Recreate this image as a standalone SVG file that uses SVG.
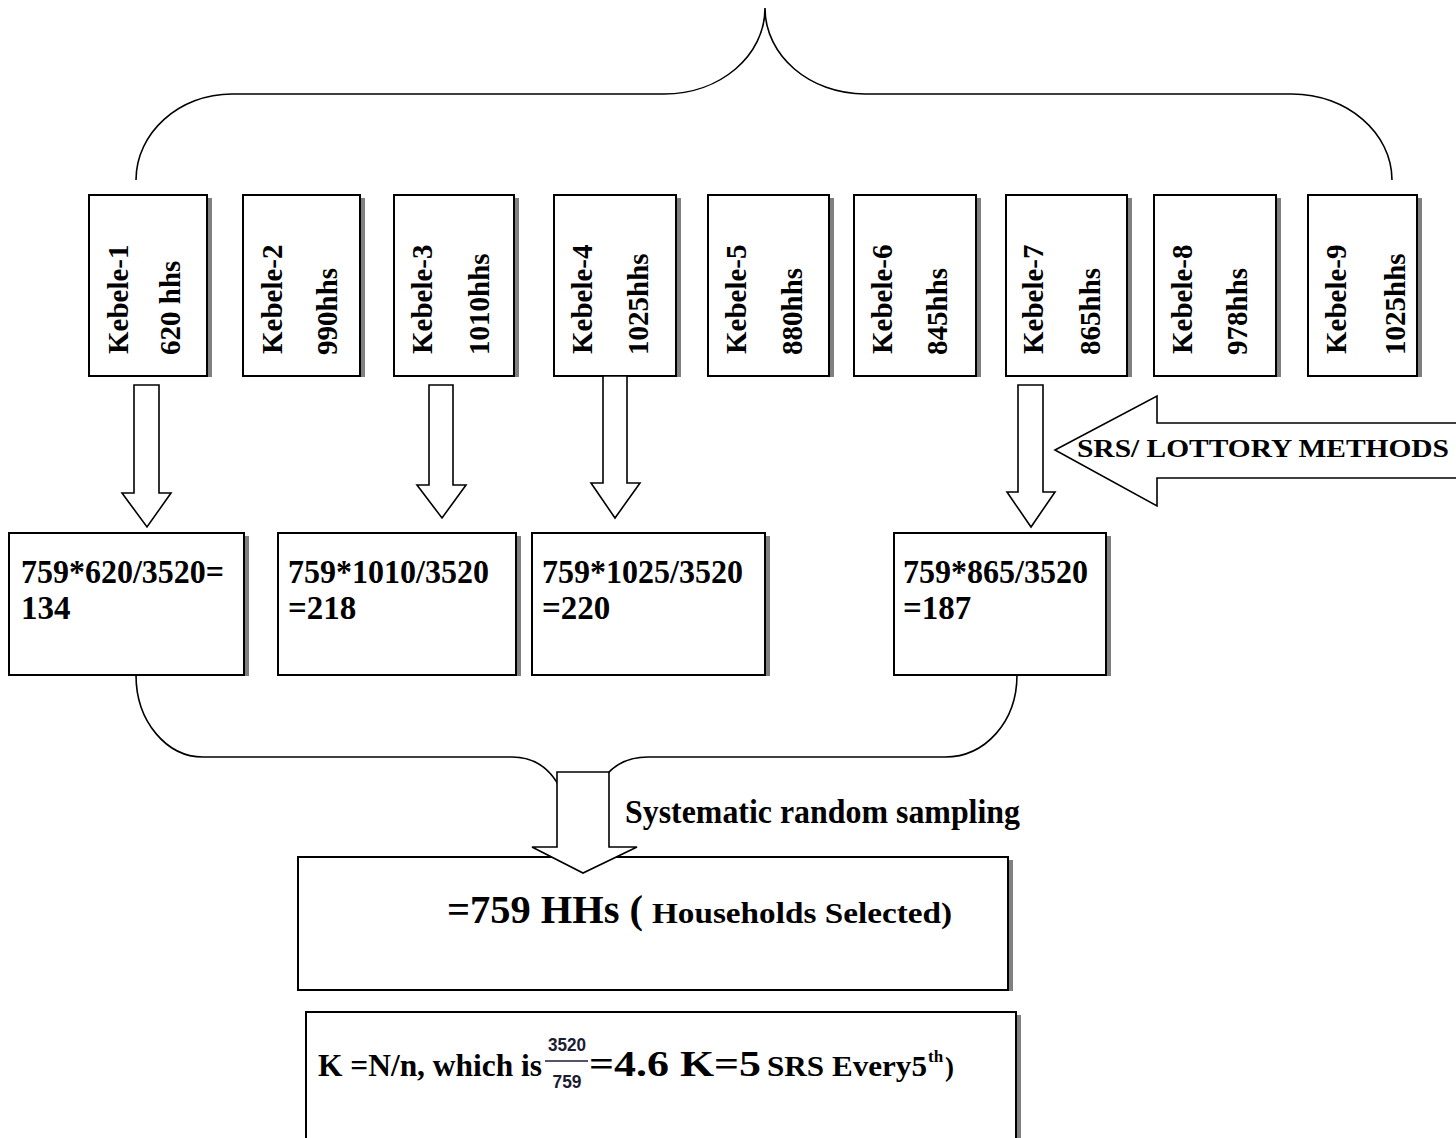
<svg xmlns="http://www.w3.org/2000/svg" width="1456" height="1138" viewBox="0 0 1456 1138">
<style>
.box{fill:#fff;stroke:#000;stroke-width:2}
.sh{fill:#808080}
.arr{fill:#fff;stroke:#000;stroke-width:1.6;stroke-linejoin:miter}
.brace{fill:none;stroke:#000;stroke-width:1.6}
.t{font-family:"Liberation Serif","Times New Roman",serif;font-weight:bold;fill:#000}
.kb{font-size:29px}
.f{font-size:33px}
.fr{font-family:"Liberation Sans",Arial,sans-serif;font-weight:bold;font-size:18px;fill:#1b1b33}
</style>
<rect width="1456" height="1138" fill="#fff"/>
<g id="connectors">
<path class="brace" d="M136,180 C136,133 179,94 232,94 L664,94 C720,94 765,56 765,8 C765,56 810,94 865,94 L1292,94 C1347,94 1392,133 1392,180"/>
<path class="brace" d="M136,675 C136,722 167,757 203,757 L512,757 C535,757 552,770 562,792"/>
<path class="brace" d="M1017,675 C1017,722 985,757 945,757 L648,757 C630,757 615,763 604,778"/>
</g>
<g id="kebele-1"><rect class="sh" x="207" y="198" width="5" height="179"/><rect class="box" x="89" y="195" width="118" height="181"/>
<text class="t kb" transform="translate(128,354) rotate(-90)">Kebele-1</text><text class="t kb" transform="translate(180,355) rotate(-90)">620 hhs</text></g>
<g id="kebele-2"><rect class="sh" x="360" y="198" width="5" height="179"/><rect class="box" x="243" y="195" width="117" height="181"/>
<text class="t kb" transform="translate(282,354) rotate(-90)">Kebele-2</text><text class="t kb" transform="translate(337,355) rotate(-90)">990hhs</text></g>
<g id="kebele-3"><rect class="sh" x="514" y="198" width="5" height="179"/><rect class="box" x="394" y="195" width="120" height="181"/>
<text class="t kb" transform="translate(432,354) rotate(-90)">Kebele-3</text><text class="t kb" transform="translate(489,355) rotate(-90)">1010hhs</text></g>
<g id="kebele-4"><rect class="sh" x="676" y="198" width="5" height="179"/><rect class="box" x="554" y="195" width="122" height="181"/>
<text class="t kb" transform="translate(592,354) rotate(-90)">Kebele-4</text><text class="t kb" transform="translate(648,355) rotate(-90)">1025hhs</text></g>
<g id="kebele-5"><rect class="sh" x="829" y="198" width="5" height="179"/><rect class="box" x="708" y="195" width="121" height="181"/>
<text class="t kb" transform="translate(746,354) rotate(-90)">Kebele-5</text><text class="t kb" transform="translate(802,355) rotate(-90)">880hhs</text></g>
<g id="kebele-6"><rect class="sh" x="976" y="198" width="5" height="179"/><rect class="box" x="854" y="195" width="122" height="181"/>
<text class="t kb" transform="translate(892,354) rotate(-90)">Kebele-6</text><text class="t kb" transform="translate(947,355) rotate(-90)">845hhs</text></g>
<g id="kebele-7"><rect class="sh" x="1127" y="198" width="5" height="179"/><rect class="box" x="1006" y="195" width="121" height="181"/>
<text class="t kb" transform="translate(1043,354) rotate(-90)">Kebele-7</text><text class="t kb" transform="translate(1100,355) rotate(-90)">865hhs</text></g>
<g id="kebele-8"><rect class="sh" x="1276" y="198" width="5" height="179"/><rect class="box" x="1154" y="195" width="122" height="181"/>
<text class="t kb" transform="translate(1192,354) rotate(-90)">Kebele-8</text><text class="t kb" transform="translate(1247,355) rotate(-90)">978hhs</text></g>
<g id="kebele-9"><rect class="sh" x="1417" y="198" width="5" height="179"/><rect class="box" x="1308" y="195" width="109" height="181"/>
<text class="t kb" transform="translate(1346,354) rotate(-90)">Kebele-9</text><text class="t kb" transform="translate(1405,355) rotate(-90)">1025hhs</text></g>
<g id="calc-1"><rect class="sh" x="244" y="536" width="5" height="140"/><rect class="box" x="9" y="533" width="235" height="142"/>
<text class="t f" x="21" y="583" textLength="203" lengthAdjust="spacingAndGlyphs">759*620/3520=</text><text class="t f" x="21" y="619">134</text></g>
<g id="calc-3"><rect class="sh" x="516" y="536" width="5" height="140"/><rect class="box" x="278" y="533" width="238" height="142"/>
<text class="t f" x="288" y="583" textLength="201" lengthAdjust="spacingAndGlyphs">759*1010/3520</text><text class="t f" x="288" y="619">=218</text></g>
<g id="calc-4"><rect class="sh" x="765" y="536" width="5" height="140"/><rect class="box" x="532" y="533" width="233" height="142"/>
<text class="t f" x="542" y="583" textLength="201" lengthAdjust="spacingAndGlyphs">759*1025/3520</text><text class="t f" x="542" y="619">=220</text></g>
<g id="calc-7"><rect class="sh" x="1106" y="536" width="5" height="140"/><rect class="box" x="894" y="533" width="212" height="142"/>
<text class="t f" x="903" y="583" textLength="185" lengthAdjust="spacingAndGlyphs">759*865/3520</text><text class="t f" x="903" y="619">=187</text></g>
<g id="selected"><rect class="sh" x="1008" y="860" width="5" height="131"/><rect class="box" x="298" y="857" width="710" height="133"/>
<text class="t" x="447" y="923" font-size="40" textLength="196" lengthAdjust="spacingAndGlyphs">=759 HHs (</text>
<text class="t" x="652" y="923" font-size="29" textLength="300" lengthAdjust="spacingAndGlyphs">Households Selected)</text></g>
<g id="formula"><rect class="sh" x="1016" y="1015" width="5" height="130"/><rect class="box" x="306" y="1012" width="710" height="140"/>
<text class="t" x="318" y="1076" font-size="32" textLength="224" lengthAdjust="spacingAndGlyphs">K =N/n, which is</text>
<text class="fr" x="567" y="1051" text-anchor="middle" textLength="38" lengthAdjust="spacingAndGlyphs">3520</text>
<line x1="545" y1="1061" x2="588" y2="1061" stroke="#1b1b33" stroke-width="1.5"/>
<text class="fr" x="567" y="1088" text-anchor="middle" textLength="29" lengthAdjust="spacingAndGlyphs">759</text>
<text class="t" x="589" y="1076" font-size="36" textLength="172" lengthAdjust="spacingAndGlyphs">=4.6 K=5</text>
<text class="t" x="767" y="1076" font-size="29" textLength="160" lengthAdjust="spacingAndGlyphs">SRS Every5</text>
<text class="t" x="928" y="1062" font-size="17">th</text>
<text class="t" x="945" y="1076" font-size="27">)</text></g>
<g id="arrows">
<polygon class="arr" points="134,385 159,385 159,493 171,493 147,527 122,493 134,493"/>
<polygon class="arr" points="429,385 453,385 453,485 466,485 442,518 417,485 429,485"/>
<polygon class="arr" points="603,376 627,376 627,483 640,483 615,518 591,483 603,483"/>
<polygon class="arr" points="1018,385 1043,385 1043,492 1055,492 1031,527 1007,492 1018,492"/>
<polygon class="arr" points="1055,450 1157,396 1157,423 1462,423 1462,478 1157,478 1157,506"/>
<polygon class="arr" points="557,772 609,772 609,847 637,847 583,873 532,847 557,847"/>
</g>
<text class="t" x="1077" y="457" font-size="25" textLength="372" lengthAdjust="spacingAndGlyphs">SRS/ LOTTORY   METHODS</text>
<text class="t" x="625" y="823" font-size="33" textLength="395" lengthAdjust="spacingAndGlyphs">Systematic random sampling</text>
</svg>
